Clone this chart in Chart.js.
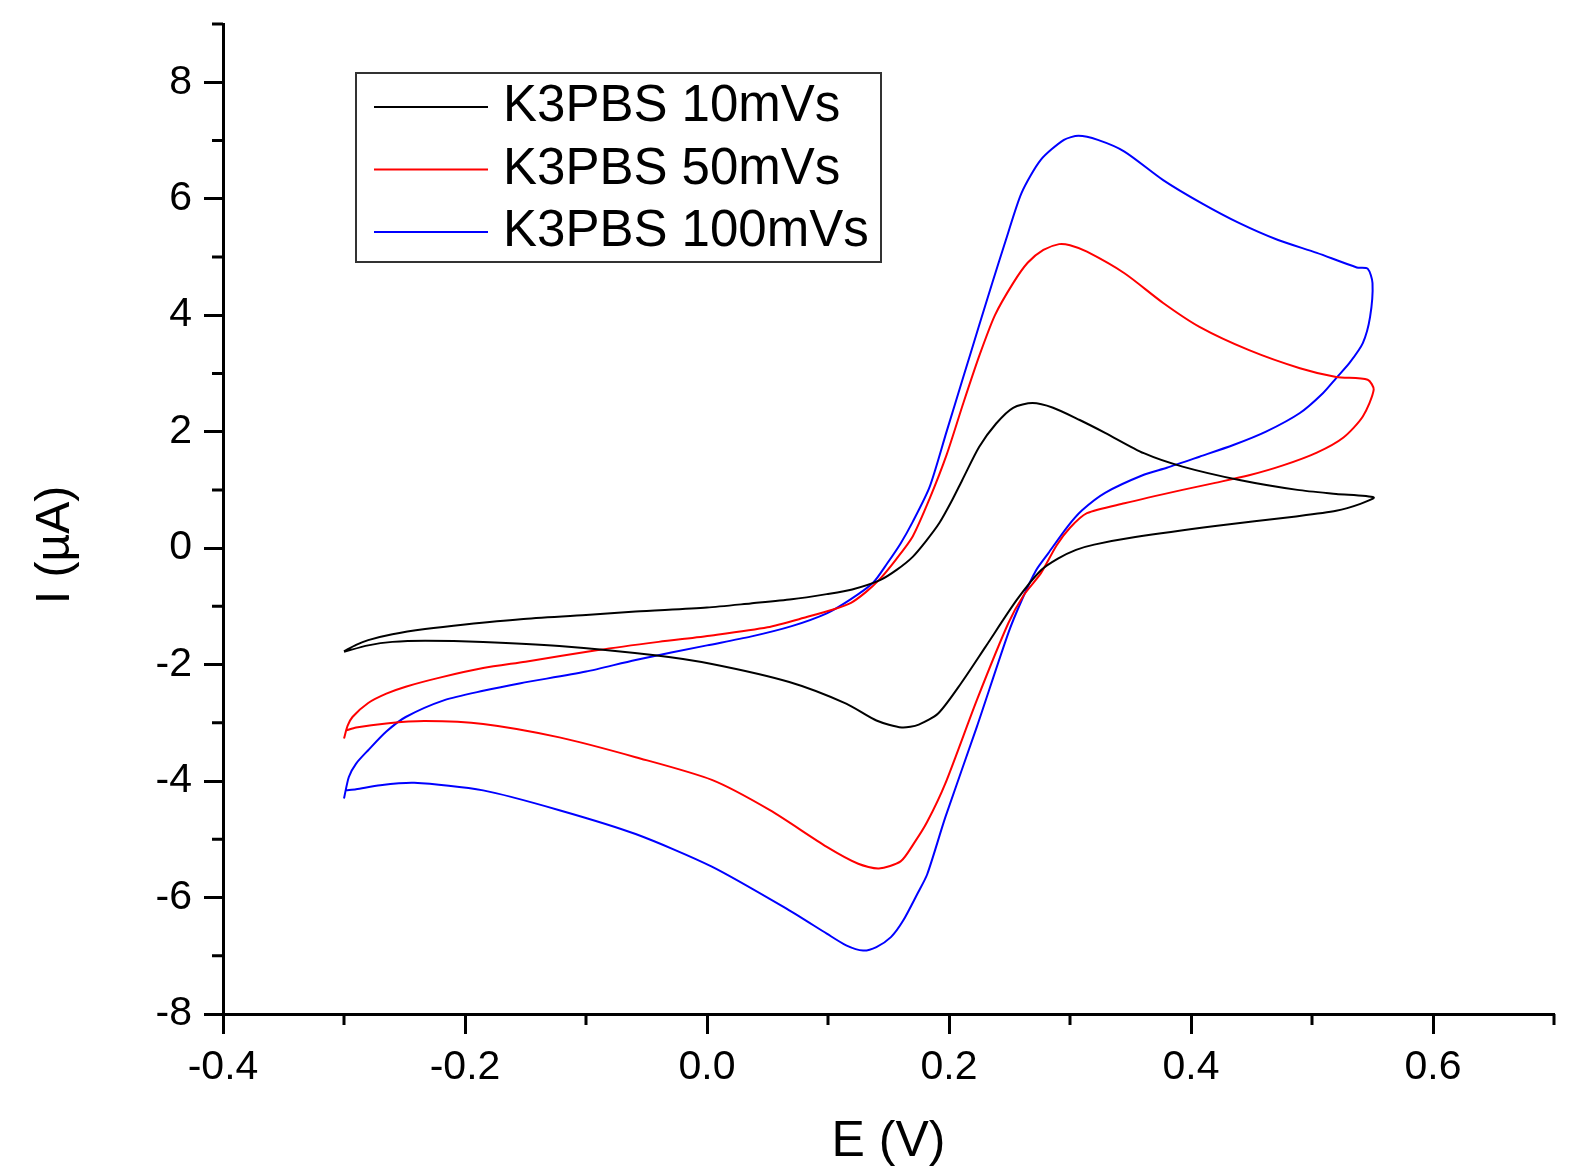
<!DOCTYPE html>
<html>
<head>
<meta charset="utf-8">
<script src="https://cdn.jsdelivr.net/npm/chart.js@4.4.1/dist/chart.umd.min.js"></script>
<style>
  html, body { margin: 0; padding: 0; background: #fff; }
  #wrap { width: 1577px; height: 1167px; position: relative; }
</style>
</head>
<body>
<div id="wrap"><canvas id="cvChart"></canvas></div>
<script>
// =========================
//  DATA (E in V, I in uA)
// =========================
const seriesLabels = ["K3PBS 10mVs", "K3PBS 50mVs", "K3PBS 100mVs"];
const seriesColors = ["#000000", "#ff0000", "#0000ff"];

// 10 mV/s loop
const e10 = [-0.300, -0.290, -0.280, -0.260, -0.233, -0.200, -0.154, -0.100, -0.059, 0.000, 0.036, 0.070, 0.099, 0.120, 0.143, 0.157, 0.170, 0.181, 0.192, 0.202, 0.211, 0.225, 0.239, 0.253, 0.269, 0.286, 0.308, 0.329, 0.361, 0.393, 0.440, 0.488, 0.520, 0.551,
             0.540, 0.520, 0.485, 0.420, 0.354, 0.320, 0.305, 0.290, 0.276, 0.256, 0.230, 0.210, 0.191, 0.175, 0.161, 0.140, 0.115, 0.068, 0.004, -0.043, -0.122, -0.185, -0.233, -0.260, -0.280, -0.300];
const i10 = [-1.77, -1.66, -1.58, -1.48, -1.39, -1.31, -1.22, -1.15, -1.09, -1.02, -0.95, -0.88, -0.79, -0.71, -0.55, -0.37, -0.15, 0.12, 0.43, 0.80, 1.17, 1.74, 2.14, 2.41, 2.49, 2.41, 2.20, 1.98, 1.63, 1.40, 1.17, 1.00, 0.93, 0.87,
             0.76, 0.64, 0.54, 0.38, 0.19, 0.06, -0.03, -0.18, -0.38, -0.89, -1.70, -2.32, -2.84, -3.03, -3.08, -2.96, -2.67, -2.30, -1.99, -1.84, -1.68, -1.61, -1.59, -1.61, -1.67, -1.78];

// 50 mV/s loop
const e50 = [-0.300, -0.297, -0.293, -0.280, -0.265, -0.249, -0.220, -0.185, -0.150, -0.090, -0.040, 0.004, 0.050, 0.083, 0.105, 0.119, 0.131, 0.142, 0.156, 0.170, 0.184, 0.198, 0.212, 0.225, 0.238, 0.253, 0.265, 0.278, 0.291, 0.300, 0.314, 0.345, 0.377, 0.407, 0.448, 0.490, 0.520, 0.546, 0.551,
             0.542, 0.526, 0.504, 0.476, 0.448, 0.420, 0.393, 0.345, 0.314, 0.300, 0.289, 0.276, 0.262, 0.249, 0.223, 0.197, 0.182, 0.171, 0.160, 0.142, 0.125, 0.099, 0.052, 0.004, -0.059, -0.122, -0.185, -0.233, -0.265, -0.290, -0.298];
const i50 = [-3.27, -3.05, -2.90, -2.66, -2.50, -2.38, -2.22, -2.06, -1.95, -1.75, -1.61, -1.50, -1.36, -1.18, -1.05, -0.94, -0.76, -0.55, -0.20, 0.20, 0.85, 1.60, 2.50, 3.30, 4.00, 4.55, 4.90, 5.12, 5.22, 5.20, 5.09, 4.72, 4.21, 3.80, 3.40, 3.09, 2.94, 2.89, 2.72,
             2.26, 1.90, 1.64, 1.42, 1.25, 1.12, 1.00, 0.77, 0.60, 0.35, 0.05, -0.43, -0.80, -1.29, -2.61, -4.04, -4.70, -5.07, -5.38, -5.50, -5.42, -5.13, -4.50, -3.98, -3.59, -3.25, -3.02, -2.97, -3.01, -3.08, -3.13];

// 100 mV/s loop
const e100 = [-0.300, -0.296, -0.290, -0.280, -0.265, -0.249, -0.217, -0.185, -0.154, -0.100, -0.059, 0.000, 0.036, 0.070, 0.099, 0.118, 0.137, 0.149, 0.160, 0.170, 0.184, 0.198, 0.212, 0.225, 0.236, 0.247, 0.260, 0.276, 0.295, 0.307, 0.323, 0.345, 0.377, 0.409, 0.440, 0.472, 0.504, 0.537, 0.546, 0.550,
              0.548, 0.542, 0.531, 0.520, 0.509, 0.490, 0.462, 0.435, 0.407, 0.380, 0.361, 0.329, 0.310, 0.298, 0.282, 0.272, 0.260, 0.249, 0.223, 0.197, 0.182, 0.174, 0.162, 0.152, 0.140, 0.129, 0.115, 0.099, 0.068, 0.004, -0.059, -0.122, -0.185, -0.242, -0.270, -0.290, -0.298];
const i100 = [-4.30, -3.93, -3.70, -3.47, -3.15, -2.90, -2.61, -2.45, -2.32, -2.12, -1.92, -1.67, -1.52, -1.34, -1.12, -0.89, -0.60, -0.26, 0.08, 0.45, 1.05, 2.00, 2.95, 3.83, 4.57, 5.29, 6.10, 6.67, 7.01, 7.08, 7.01, 6.81, 6.32, 5.92, 5.58, 5.29, 5.07, 4.82, 4.80, 4.55,
              3.97, 3.52, 3.18, 2.92, 2.66, 2.32, 2.00, 1.77, 1.57, 1.38, 1.26, 0.95, 0.65, 0.37, -0.09, -0.38, -0.90, -1.46, -3.07, -4.62, -5.60, -5.93, -6.40, -6.68, -6.85, -6.91, -6.82, -6.62, -6.22, -5.47, -4.91, -4.50, -4.16, -4.03, -4.07, -4.14, -4.16];

// axes
const xMin = -0.4, xMax = 0.7, xStep = 0.1;
const yMin = -8, yMax = 9, yStep = 1;
const xTitle = "E (V)";
const yTitle = "I (\u00b5A)";

const FONT = '"Liberation Sans", Arial, sans-serif';

function toPoints(xs, ys) {
    return xs.map((x, i) => ({ x: x, y: ys[i] }));
}

const loops = [[e10, i10], [e50, i50], [e100, i100]];

// major ticks are every second step; odd ones are the short minor ticks
function isMajor(v, step) {
    return Math.round(v / step) % 2 === 0;
}

// =========================
//  PLUGIN: minor ticks, y title, legend box
// =========================
const extrasPlugin = {
    id: "extras",
    afterDraw(chart) {
        const ctx = chart.ctx;
        const xs = chart.scales.x;
        const ys = chart.scales.y;
        const area = chart.chartArea;

        ctx.save();
        ctx.strokeStyle = "#000";
        ctx.lineWidth = 3;
        ctx.beginPath();
        xs.ticks.forEach((t) => {
            if (!isMajor(t.value, xStep)) {
                const px = xs.getPixelForValue(t.value);
                ctx.moveTo(px, area.bottom);
                ctx.lineTo(px, area.bottom + 11);
            }
        });
        ys.ticks.forEach((t) => {
            if (!isMajor(t.value, yStep)) {
                const py = ys.getPixelForValue(t.value);
                ctx.moveTo(area.left, py);
                ctx.lineTo(area.left - 11, py);
            }
        });
        ctx.stroke();

        // y axis title
        ctx.fillStyle = "#000";
        ctx.font = "48px " + FONT;
        ctx.textAlign = "center";
        ctx.textBaseline = "middle";
        ctx.translate(56, 545);
        ctx.rotate(-Math.PI / 2);
        ctx.fillText(yTitle, 0, 0);
        ctx.restore();

        // legend box
        ctx.save();
        ctx.strokeStyle = "#333";
        ctx.lineWidth = 2;
        ctx.strokeRect(356, 73, 525, 189);
        ctx.font = "51px " + FONT;
        ctx.textAlign = "left";
        ctx.textBaseline = "middle";
        chart.data.datasets.forEach((ds, i) => {
            const ly = 107 + i * 62.5;
            ctx.strokeStyle = ds.borderColor;
            ctx.lineWidth = 2;
            ctx.beginPath();
            ctx.moveTo(374, ly);
            ctx.lineTo(488, ly);
            ctx.stroke();
            ctx.fillStyle = "#000";
            ctx.fillText(ds.label, 503, ly);
        });
        ctx.restore();
    }
};

// =========================
//  CHART
// =========================
const ctx = document.getElementById("cvChart").getContext("2d");

const cvChart = new Chart(ctx, {
    type: "scatter",
    data: {
        datasets: loops.map((l, i) => ({
            label: seriesLabels[i],
            data: toPoints(l[0], l[1]),
            showLine: true,
            borderColor: seriesColors[i],
            backgroundColor: seriesColors[i],
            borderWidth: 2,
            pointRadius: 0,
            tension: 0.25,
            fill: false
        }))
    },
    options: {
        responsive: true,
        maintainAspectRatio: false,
        animation: false,
        layout: { padding: { left: 0, right: 23, top: 24, bottom: 0 } },
        plugins: {
            legend: { display: false },
            tooltip: { enabled: false }
        },
        scales: {
            x: {
                type: "linear",
                min: xMin,
                max: xMax,
                afterFit: (scale) => {
                    scale.height = 153;
                    scale.paddingLeft = 0;
                    scale.paddingRight = 0;
                },
                border: { display: true, color: "#000", width: 3 },
                grid: {
                    drawOnChartArea: false,
                    drawTicks: true,
                    tickLength: 20,
                    tickWidth: 3,
                    tickColor: (c) => (c.tick && isMajor(c.tick.value, xStep) ? "#000" : "rgba(0,0,0,0)")
                },
                ticks: {
                    stepSize: xStep,
                    autoSkip: false,
                    maxRotation: 0,
                    padding: 9,
                    color: "#000",
                    font: { family: FONT, size: 41 },
                    callback: (v) => (isMajor(v, xStep) ? (Math.round(v * 10) / 10).toFixed(1) : "")
                },
                title: {
                    display: true,
                    text: xTitle,
                    color: "#000",
                    font: { family: FONT, size: 50, lineHeight: 1 },
                    padding: { top: 0, bottom: 0 }
                }
            },
            y: {
                type: "linear",
                min: yMin,
                max: yMax,
                afterFit: (scale) => {
                    scale.width = 223;
                    scale.paddingTop = 0;
                    scale.paddingBottom = 0;
                },
                border: { display: true, color: "#000", width: 3 },
                grid: {
                    drawOnChartArea: false,
                    drawTicks: true,
                    tickLength: 19,
                    tickWidth: 3,
                    tickColor: (c) => (c.tick && isMajor(c.tick.value, yStep) ? "#000" : "rgba(0,0,0,0)")
                },
                ticks: {
                    stepSize: yStep,
                    autoSkip: false,
                    padding: 12,
                    color: "#000",
                    font: { family: FONT, size: 41 },
                    callback: (v) => (isMajor(v, yStep) ? String(v) : "")
                },
                title: { display: false }
            }
        }
    },
    plugins: [extrasPlugin]
});
</script>
</body>
</html>
